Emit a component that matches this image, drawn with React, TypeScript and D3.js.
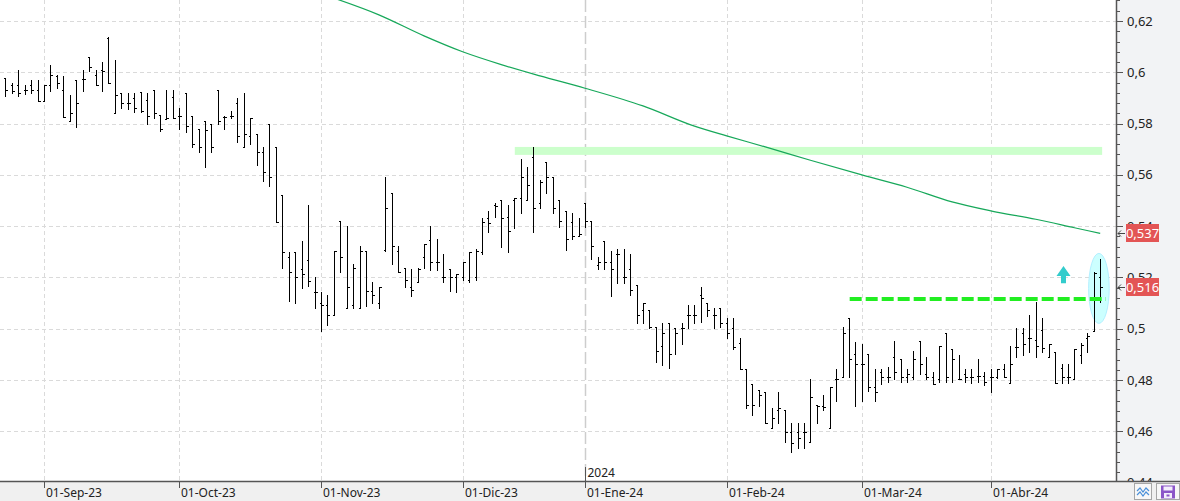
import * as d3 from "d3";

// first bar is 24-Aug-23 (trading-day index -6, 01-Sep-23 = 0)
const firstIdx = -6;

// [open, high, low, close]
const bars: [number, number, number, number][] = [
  [0.5978, 0.5978, 0.5908, 0.5931], [0.5951, 0.5958, 0.5919, 0.5927], [0.5951, 0.6009, 0.5908, 0.592],
  [0.5931, 0.5951, 0.5915, 0.5931], [0.5951, 0.597, 0.5919, 0.5931], [0.5931, 0.597, 0.5888, 0.5888],
  [0.5888, 0.5951, 0.5888, 0.5951], [0.5951, 0.6029, 0.5927, 0.599], [0.5986, 0.599, 0.5939, 0.5958],
  [0.5931, 0.5986, 0.5826, 0.5826], [0.581, 0.5912, 0.581, 0.5841], [0.597, 0.597, 0.5787, 0.588],
  [0.5974, 0.6009, 0.5927, 0.5974], [0.606, 0.606, 0.6005, 0.6021], [0.599, 0.6009, 0.5951, 0.5951],
  [0.6009, 0.604, 0.5927, 0.6005], [0.6134, 0.6138, 0.5958, 0.5958], [0.5841, 0.6048, 0.5841, 0.5912],
  [0.5919, 0.5919, 0.5861, 0.588], [0.588, 0.5919, 0.5857, 0.588], [0.59, 0.5919, 0.5845, 0.5861],
  [0.5923, 0.5923, 0.5845, 0.5849], [0.5892, 0.5919, 0.5798, 0.583], [0.5931, 0.5931, 0.5822, 0.5841],
  [0.5834, 0.5834, 0.5771, 0.5779], [0.5818, 0.5931, 0.5818, 0.5822], [0.5904, 0.5931, 0.5822, 0.5822],
  [0.583, 0.5861, 0.5779, 0.583], [0.5919, 0.5919, 0.5767, 0.5791], [0.583, 0.583, 0.5709, 0.572],
  [0.5779, 0.5779, 0.5689, 0.5709], [0.581, 0.581, 0.5631, 0.5775], [0.5798, 0.5798, 0.5689, 0.5709],
  [0.5931, 0.5931, 0.5798, 0.581], [0.5826, 0.583, 0.5779, 0.5826], [0.583, 0.5849, 0.5822, 0.583],
  [0.588, 0.59, 0.5728, 0.5752], [0.5709, 0.5919, 0.5709, 0.5759], [0.5752, 0.5822, 0.572, 0.5822],
  [0.5759, 0.5759, 0.5639, 0.5689], [0.5689, 0.5709, 0.5576, 0.5611], [0.5798, 0.5798, 0.5557, 0.5592],
  [0.5709, 0.5709, 0.5416, 0.5416], [0.5522, 0.5522, 0.5237, 0.5299], [0.528, 0.5299, 0.5108, 0.5221],
  [0.5299, 0.5299, 0.51, 0.5202], [0.5233, 0.5342, 0.5159, 0.5213], [0.5268, 0.5483, 0.5167, 0.5186],
  [0.5143, 0.5202, 0.5081, 0.5143], [0.51, 0.5143, 0.4991, 0.5093], [0.5093, 0.5132, 0.5015, 0.5054],
  [0.5054, 0.5303, 0.5054, 0.5303], [0.542, 0.542, 0.5221, 0.528], [0.5081, 0.5401, 0.5081, 0.5163],
  [0.5093, 0.5252, 0.5081, 0.5237], [0.5081, 0.5323, 0.5081, 0.5303], [0.5303, 0.5303, 0.5089, 0.5147],
  [0.5147, 0.5182, 0.51, 0.5132], [0.51, 0.5163, 0.5081, 0.5163], [0.5307, 0.5592, 0.5303, 0.5471],
  [0.5529, 0.5529, 0.5252, 0.5323], [0.5303, 0.5323, 0.5221, 0.5221], [0.5237, 0.5237, 0.5163, 0.519],
  [0.5163, 0.5233, 0.5128, 0.5151], [0.5182, 0.5237, 0.5182, 0.5233], [0.528, 0.533, 0.5237, 0.533],
  [0.5346, 0.5401, 0.5229, 0.526], [0.526, 0.535, 0.5229, 0.526], [0.5202, 0.5291, 0.5182, 0.5202],
  [0.5233, 0.5233, 0.5147, 0.5202], [0.5202, 0.5213, 0.5143, 0.5213], [0.5202, 0.526, 0.519, 0.526],
  [0.519, 0.5299, 0.5182, 0.5299], [0.5202, 0.5311, 0.519, 0.5303], [0.5299, 0.5432, 0.5291, 0.5416],
  [0.5432, 0.5459, 0.5377, 0.5412], [0.5483, 0.549, 0.5436, 0.5479], [0.5502, 0.5502, 0.5319, 0.5432],
  [0.5436, 0.5483, 0.5299, 0.5381], [0.5502, 0.551, 0.5393, 0.551], [0.551, 0.5662, 0.5451, 0.5592],
  [0.5502, 0.5631, 0.5502, 0.5561], [0.567, 0.5709, 0.5377, 0.5471], [0.549, 0.558, 0.5471, 0.5572],
  [0.565, 0.565, 0.5529, 0.5592], [0.5592, 0.5592, 0.5451, 0.5471], [0.5502, 0.5502, 0.5397, 0.542],
  [0.5459, 0.5459, 0.5307, 0.535], [0.5416, 0.5451, 0.535, 0.5362], [0.5362, 0.5432, 0.5362, 0.5369],
  [0.549, 0.549, 0.5397, 0.542], [0.542, 0.542, 0.5272, 0.5323], [0.5249, 0.528, 0.5233, 0.526],
  [0.5342, 0.5342, 0.5233, 0.526], [0.526, 0.5303, 0.5128, 0.5233], [0.5291, 0.5311, 0.5178, 0.5291],
  [0.5202, 0.5311, 0.5178, 0.5202], [0.5233, 0.5291, 0.5132, 0.5151], [0.5171, 0.5171, 0.5022, 0.5054],
  [0.5073, 0.51, 0.5022, 0.51], [0.5073, 0.5073, 0.5003, 0.5007], [0.5007, 0.5007, 0.487, 0.4913],
  [0.4933, 0.5022, 0.4859, 0.4983], [0.5022, 0.5022, 0.4847, 0.4901], [0.5003, 0.5003, 0.4901, 0.4983],
  [0.5003, 0.5022, 0.494, 0.5003], [0.5054, 0.5093, 0.5003, 0.5054], [0.5054, 0.5093, 0.5022, 0.5054],
  [0.5132, 0.5163, 0.5026, 0.512], [0.51, 0.51, 0.505, 0.5073], [0.5054, 0.5081, 0.5003, 0.5054],
  [0.5081, 0.5081, 0.5007, 0.5022], [0.5022, 0.5042, 0.4964, 0.4983], [0.5003, 0.5042, 0.4921, 0.4929],
  [0.4944, 0.4964, 0.4843, 0.4843], [0.4843, 0.4843, 0.4691, 0.4703], [0.4784, 0.4784, 0.4664, 0.4703],
  [0.4761, 0.4761, 0.4699, 0.4742], [0.4753, 0.4753, 0.4632, 0.4632], [0.4613, 0.4691, 0.4613, 0.4652],
  [0.4683, 0.4753, 0.4632, 0.4691], [0.4683, 0.4683, 0.4558, 0.4597], [0.4597, 0.4632, 0.4519, 0.4554],
  [0.4597, 0.4632, 0.4535, 0.4574], [0.4597, 0.4632, 0.4535, 0.4597], [0.4558, 0.4804, 0.4558, 0.4734],
  [0.4703, 0.4703, 0.4632, 0.4699], [0.4699, 0.4742, 0.4683, 0.4695], [0.4613, 0.4773, 0.4613, 0.4773],
  [0.4804, 0.4843, 0.4718, 0.4804], [0.4812, 0.5007, 0.4812, 0.4983], [0.5042, 0.5042, 0.4812, 0.4882],
  [0.4901, 0.4948, 0.4699, 0.4862], [0.4862, 0.494, 0.4718, 0.4862], [0.4901, 0.4901, 0.4757, 0.4773],
  [0.4773, 0.4843, 0.4718, 0.4753], [0.4831, 0.4843, 0.4784, 0.4812], [0.4812, 0.4851, 0.4792, 0.4812],
  [0.489, 0.4952, 0.4804, 0.4831], [0.4882, 0.4882, 0.4792, 0.4812], [0.4812, 0.4843, 0.4792, 0.4823],
  [0.4812, 0.4913, 0.4804, 0.4882], [0.4952, 0.4952, 0.4823, 0.4862], [0.4823, 0.489, 0.4804, 0.4812],
  [0.4812, 0.4831, 0.4784, 0.4784], [0.4804, 0.4933, 0.4792, 0.4933], [0.4983, 0.4983, 0.4792, 0.4812],
  [0.4921, 0.4921, 0.4792, 0.4882], [0.4804, 0.4898, 0.4804, 0.4804], [0.4823, 0.4843, 0.4792, 0.4812],
  [0.4812, 0.4843, 0.4788, 0.4812], [0.4816, 0.4882, 0.4792, 0.4816], [0.4816, 0.4831, 0.4781, 0.4792],
  [0.4812, 0.4843, 0.4753, 0.4812], [0.4812, 0.4843, 0.4808, 0.4843], [0.4843, 0.4862, 0.4812, 0.4812],
  [0.4788, 0.4933, 0.4788, 0.4862], [0.4929, 0.5003, 0.489, 0.4929], [0.4983, 0.5003, 0.4898, 0.494],
  [0.4964, 0.5054, 0.4909, 0.4964], [0.4956, 0.5104, 0.489, 0.4933], [0.4995, 0.5042, 0.4909, 0.4925],
  [0.489, 0.494, 0.489, 0.494], [0.4909, 0.4909, 0.4788, 0.4788], [0.4847, 0.4862, 0.4788, 0.4812],
  [0.4812, 0.4862, 0.4788, 0.4812], [0.4804, 0.4921, 0.4804, 0.4921], [0.4898, 0.4944, 0.4866, 0.4936],
  [0.4964, 0.4983, 0.4909, 0.4972], [0.4991, 0.5221, 0.4991, 0.5217], [0.5202, 0.5272, 0.5104, 0.5163],
];

// moving average (read at a few bars)
const maIdx = [44, 52, 59, 65, 71, 77, 84, 93, 101, 106, 112, 119, 127, 134, 141, 147, 154, 160, 164];
const maVals = [0.6298, 0.6224, 0.6142, 0.608, 0.603, 0.5986, 0.5938, 0.5869, 0.579, 0.5752, 0.5709, 0.5657, 0.56, 0.5552, 0.5495, 0.546, 0.5427, 0.5394, 0.5372];

const monthLabels = ["01-Sep-23", "01-Oct-23", "01-Nov-23", "01-Dic-23", "01-Ene-24", "01-Feb-24", "01-Mar-24", "01-Abr-24"];
const monthIdx = [0, 21, 43, 65, 84, 106, 127, 147];
const yearLabel = "2024";
const yearIdx = 84;

const yTicks = [0.44, 0.46, 0.48, 0.5, 0.52, 0.54, 0.56, 0.58, 0.6, 0.62];
const yTickLabels = ["0,44", "0,46", "0,48", "0,5", "0,52", "0,54", "0,56", "0,58", "0,6", "0,62"];

const priceTags = [
  { label: "0,537", value: 0.5372 },
  { label: "0,516", value: 0.5163 },
];

// drawings
const bandHi = 0.5709, bandLo = 0.5678, bandFrom = 73.1, bandTo = 164.3;
const supportLevel = 0.5116, supportFrom = 125.1, supportTo = 164.9;
const arrowIdx = 158.3, arrowTop = 0.5245, arrowBase = 0.5178;
const ellipseIdx = 163.8, ellipseHi = 0.5294, ellipseLo = 0.5021;

const W = 1180, H = 501;
const plotR = 1116, plotB = 481;
const font = "'Noto Sans', 'DejaVu Sans', sans-serif";

export default function App() {
  const lastIdx = firstIdx + bars.length - 1;
  const x = d3.scaleLinear().domain([firstIdx, lastIdx]).range([5.4, 1100.2]);
  const y = d3.scaleLinear().domain([0.44, 0.62]).range([482.7, 21]);

  const ma = d3
    .line<number>()
    .x((_, i) => x(maIdx[i]))
    .y((d) => y(d))
    .curve(d3.curveMonotoneX);

  const minor = d3.range(0.436, 0.6281, 0.004);
  const cx = (v: number) => Math.round(x(v)) + 0.5;

  const ay = y(arrowTop), ab = y(arrowBase), ax = x(arrowIdx);

  return (
    <div style={{ position: "absolute", left: 0, top: 0 }}>
      <svg width={W} height={H} style={{ display: "block", background: "#fff" }} fontFamily={font}>
        <defs>
          <clipPath id="plot">
            <rect x={0} y={0} width={plotR} height={plotB} />
          </clipPath>
        </defs>

        <rect x={plotR} y={0} width={W - plotR} height={plotB} fill="#f2f3f5" />

        <g clipPath="url(#plot)">
          {yTicks.map((t) => (
            <line key={t} x1={0} x2={plotR} y1={Math.round(y(t)) + 0.5} y2={Math.round(y(t)) + 0.5}
              stroke="#dadada" strokeDasharray="4,3" />
          ))}
          {monthIdx.map((m) =>
            m === yearIdx ? null : (
              <line key={m} x1={cx(m)} x2={cx(m)} y1={0} y2={plotB} stroke="#dadada" strokeDasharray="4,3" />
            )
          )}
          <line x1={cx(yearIdx)} x2={cx(yearIdx)} y1={0} y2={plotB} stroke="#cdcdcd" strokeWidth={1.5} strokeDasharray="12,4" />

          <rect x={x(bandFrom)} y={y(bandHi)} width={x(bandTo) - x(bandFrom)} height={y(bandLo) - y(bandHi)} fill="#ccffcc" />

          <ellipse cx={x(ellipseIdx)} cy={(y(ellipseHi) + y(ellipseLo)) / 2} rx={10.3} ry={(y(ellipseLo) - y(ellipseHi)) / 2}
            fill="#ccffff" stroke="#b3f0ff" />

          <path d={ma(maVals) || ""} fill="none" stroke="#17a85a" strokeWidth={1.2} />

          <g stroke="#000" strokeWidth={1} shapeRendering="crispEdges">
            {bars.map((b, i) => {
              const xi = cx(firstIdx + i);
              return (
                <g key={i}>
                  <line x1={xi} x2={xi} y1={Math.round(y(b[1]))} y2={Math.round(y(b[2])) + 1} />
                  <line x1={xi - 2} x2={xi} y1={Math.round(y(b[0])) + 0.5} y2={Math.round(y(b[0])) + 0.5} />
                  <line x1={xi} x2={xi + 2} y1={Math.round(y(b[3])) + 0.5} y2={Math.round(y(b[3])) + 0.5} />
                </g>
              );
            })}
          </g>

          <line x1={x(supportFrom)} x2={x(supportTo)} y1={y(supportLevel)} y2={y(supportLevel)}
            stroke="#22ee22" strokeWidth={4} strokeDasharray="12,4" />

          <path
            d={`M${ax},${ay} L${ax + 7},${ay + 10} L${ax + 2.5},${ay + 10} L${ax + 2.5},${ab} L${ax - 2.5},${ab} L${ax - 2.5},${ay + 10} L${ax - 7},${ay + 10} Z`}
            fill="#33cccc"
          />
        </g>

        <line x1={plotR + 0.5} x2={plotR + 0.5} y1={0} y2={plotB} stroke="#555" strokeWidth={1.5} />
        {minor.map((t, i) => (
          <line key={i} x1={plotR} x2={plotR + 4} y1={Math.round(y(t)) + 0.5} y2={Math.round(y(t)) + 0.5} stroke="#555" />
        ))}
        {yTicks.map((t, i) => (
          <g key={t}>
            <line x1={plotR} x2={plotR + 7} y1={Math.round(y(t)) + 0.5} y2={Math.round(y(t)) + 0.5} stroke="#555" />
            <text x={1127} y={y(t) + 4.5} fontSize={13} fill="#222">{yTickLabels[i]}</text>
          </g>
        ))}

        {priceTags.map((p) => {
          const py = Math.round(y(p.value));
          return (
            <g key={p.label}>
              <path d={`M1118,${py + 0.5} L1125,${py + 0.5} M1121,${py - 2.5} L1118,${py + 0.5} L1121,${py + 3.5}`}
                stroke="#444" fill="none" />
              <rect x={1126} y={py - 9} width={33} height={18} fill="#e35555" />
              <text x={1142.5} y={py + 4.5} fontSize={13} fill="#fff" textAnchor="middle">{p.label}</text>
            </g>
          );
        })}

        <rect x={0} y={plotB} width={W} height={H - plotB} fill="#f0f0f0" />
        <line x1={0} x2={W} y1={plotB + 0.5} y2={plotB + 0.5} stroke="#555" strokeWidth={1.5} />
        {monthIdx.map((m, i) => (
          <g key={m}>
            <line x1={cx(m)} x2={cx(m)} y1={m === yearIdx ? 467 : plotB} y2={488} stroke="#555" />
            <text x={cx(m) + 1.5} y={497} fontSize={12} fill="#222">{monthLabels[i]}</text>
          </g>
        ))}
        <text x={cx(yearIdx) + 2} y={477} fontSize={12} fill="#222">{yearLabel}</text>

        <rect x={1134.5} y={483.5} width={17} height={16} fill="#f7f7f7" stroke="#a6a6a6" />
        <path d="M1137,491 L1140,488 L1143,492 L1146,488 L1149,491 M1137,495 L1140,492 L1143,496 L1146,492 L1149,495"
          stroke="#4a90d9" strokeWidth={1.2} fill="none" />
        <rect x={1156.5} y={483.5} width={23} height={16} fill="#f7f7f7" stroke="#a6a6a6" />
        <rect x={1161} y={485.5} width={14} height={13} fill="#8b55c8" />
        <rect x={1163.5} y={486.5} width={9} height={4} fill="#f4eefc" />
        <rect x={1164} y={493} width={8} height={5} fill="#f4eefc" />
        <rect x={1166.5} y={494.5} width={3} height={2} fill="#8b55c8" />
      </svg>
    </div>
  );
}
